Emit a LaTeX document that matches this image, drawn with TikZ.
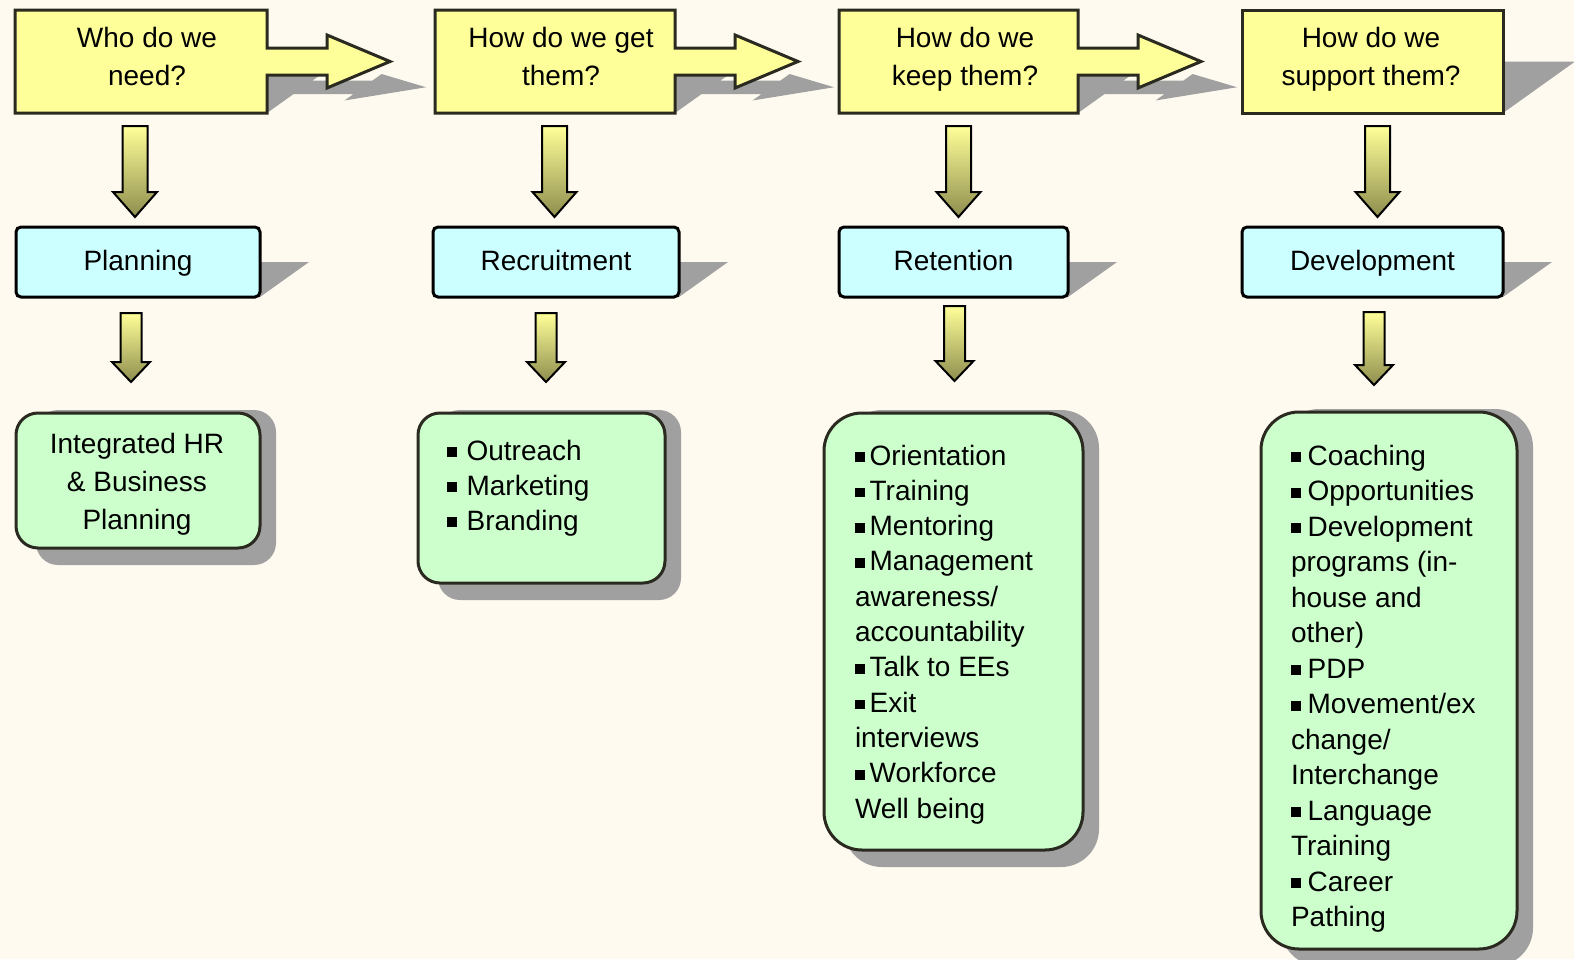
\documentclass[tikz,border=0pt]{standalone}
\usepackage{fontspec}
\setmainfont{Liberation Sans}
\usetikzlibrary{calc}

\definecolor{bg}{HTML}{FFFAF0}
\definecolor{ylw}{HTML}{FFFF99}
\definecolor{cyn}{HTML}{CCFFFF}
\definecolor{grn}{HTML}{CCFFCC}
\definecolor{shd}{HTML}{A0A0A0}
\definecolor{edge}{HTML}{2A2A20}
\definecolor{arrtop}{HTML}{FFFF99}
\definecolor{arrbot}{HTML}{8E8E4E}

\pgfdeclarelayer{back}
\pgfdeclarelayer{shade}
\pgfsetlayers{back,shade,main}

% small square bullet, #1 = gap after it
\newcommand\bul[1]{\rule[1.5pt]{4.8pt}{4.8pt}\hspace{#1}}
% centred and left-aligned text blocks whose baseline is the first line
\newcommand\ctext[1]{\parbox[t]{200pt}{\centering\fontsize{14pt}{19pt}\selectfont #1}}
\newcommand\ltext[2]{\parbox[t]{140pt}{\raggedright\fontsize{14pt}{#1}\selectfont #2}}

\tikzset{
  ybox/.style={draw=edge, line width=1.5pt, fill=ylw, line join=miter},
  yframe/.style={inner sep=0pt, outer sep=0pt, minimum height=51.5pt},
  cbox/.style={draw=black, line width=1.5pt, fill=cyn, rounded corners=2.5pt,
    inner sep=0pt, outer sep=0pt, minimum height=35pt,
    font=\fontsize{14pt}{17pt}\selectfont, text height=10pt, text depth=2pt},
  gbox/.style={draw=edge, line width=1.5pt, fill=grn, inner sep=0pt, outer sep=0pt},
  txt/.style={inner sep=0pt, outer sep=0pt, anchor=base},
  ltxt/.style={inner sep=0pt, outer sep=0pt, anchor=base west},
  darrow/.style={draw=black, line width=1pt, top color=arrtop, bottom color=arrbot, line join=miter},
}

% yellow question box with a block arrow on its right, and its cast shadow
\newcommand\callout[1]{%
  \begin{pgfonlayer}{shade}
    \fill[shd] (#1.south west) -- (#1.south east)
      -- ($(#1.south east)+(26.6,-19)$) -- ($(#1.south east)+(86.6,-19)$)
      -- ($(#1.south east)+(77.5,-12.5)$) -- ($(#1.south east)+(159.05,-25.75)$)
      -- ($(#1.south east)+(114.6,-39)$) -- ($(#1.south east)+(105.5,-32.5)$)
      -- ($(#1.south east)+(45.5,-32.5)$) -- ($(#1.south east)+(72.1,-51.5)$)
      -- ($(#1.south west)+(72.1,-51.5)$) -- cycle;
  \end{pgfonlayer}
  \draw[ybox] (#1.north west) -- (#1.north east)
    -- ($(#1.east)+(0,-13.5)$) -- ($(#1.east)+(60,-13.5)$)
    -- ($(#1.east)+(60,-26.5)$) -- ($(#1.east)+(123,0)$)
    -- ($(#1.east)+(60,26.5)$) -- ($(#1.east)+(60,13.5)$)
    -- ($(#1.east)+(0,13.5)$) -- (#1.south east) -- (#1.south west) -- cycle;}

% yellow question box without arrow
\newcommand\plainbox[1]{%
  \begin{pgfonlayer}{shade}
    \fill[shd] (#1.south west) -- (#1.south east)
      -- ($(#1.south east)+(72.1,-51.5)$) -- ($(#1.south west)+(72.1,-51.5)$) -- cycle;
  \end{pgfonlayer}
  \draw[ybox] (#1.north west) rectangle (#1.south east);}

% cast shadow of a cyan box
\newcommand\cshadow[1]{%
  \begin{pgfonlayer}{shade}
    \fill[shd] (#1.south west) -- (#1.south east)
      -- ($(#1.south east)+(49,-35)$) -- ($(#1.south west)+(49,-35)$) -- cycle;
  \end{pgfonlayer}}

% drop shadow of a green box, #2 = corner radius
\newcommand\gshadow[2]{%
  \begin{pgfonlayer}{shade}
    \fill[shd, rounded corners=#2] ($(#1.north west)+(20,-3)$) rectangle ($(#1.south east)+(16,17)$);
  \end{pgfonlayer}}

% downward block arrow: #1 start (x and top), #2 tip (y), #3 half shaft, #4 half head, #5 head length
\newcommand\dnarrow[5]{%
  \path[darrow] let \p1=#1, \p2=#2 in
    (\x1-#3,\y1) -- (\x1+#3,\y1) -- (\x1+#3,\y2+#5) -- (\x1+#4,\y2+#5)
    -- (\x1,\y2) -- (\x1-#4,\y2+#5) -- (\x1-#3,\y2+#5) -- cycle;}

\begin{document}
\begin{tikzpicture}[x=0.5pt, y=-0.5pt]
\useasboundingbox (0,0) rectangle (1574,959);
\begin{pgfonlayer}{back}
  \fill[bg] (0,0) rectangle (1574,959);
\end{pgfonlayer}

% question boxes
\node[yframe, minimum width=126pt]   (y1) at (141,61.5) {};
\node[yframe, minimum width=120pt]   (y2) at (555,61.5) {};
\node[yframe, minimum width=119.5pt] (y3) at (958.5,61.5) {};
\node[yframe, minimum width=130.5pt] (y4) at (1372.5,61.5) {};
\callout{y1}
\callout{y2}
\callout{y3}
\plainbox{y4}
\node[txt] (ty1) at (147,47)  {\ctext{Who do we\\need?}};
\node[txt] (ty2) at (561,47)  {\ctext{How do we get\\them?}};
\node[txt] (ty3) at (965,47)  {\ctext{How do we\\keep them?}};
\node[txt] (ty4) at (1371,47) {\ctext{How do we\\support them?}};

% stage boxes
\node[cbox, minimum width=122pt]   (c1) at (138,262)    {Planning};
\node[cbox, minimum width=123pt]   (c2) at (556,262)    {Recruitment};
\node[cbox, minimum width=114.5pt] (c3) at (953.5,262)  {Retention};
\node[cbox, minimum width=130.5pt] (c4) at (1372.5,262) {Development};
\cshadow{c1}
\cshadow{c2}
\cshadow{c3}
\cshadow{c4}

% detail boxes
\node[gbox, rounded corners=11pt, minimum width=122pt,   minimum height=67.5pt]  (g1) at (138,480.5) {};
\node[gbox, rounded corners=11pt, minimum width=123.5pt, minimum height=85pt]    (g2) at (541.5,498) {};
\node[gbox, rounded corners=19pt, minimum width=129.5pt, minimum height=218.5pt] (g3) at (953.5,631.5) {};
\node[gbox, rounded corners=19pt, minimum width=128pt,   minimum height=268.5pt] (g4) at (1389,680.5) {};
\gshadow{g1}{11pt}
\gshadow{g2}{11pt}
\gshadow{g3}{19pt}
\gshadow{g4}{19pt}

\node[txt] (tg1) at (137,453) {\ctext{Integrated HR\\\& Business\\Planning}};
\node[ltxt] (tg2) at (447,460) {\ltext{17.5pt}{\bul{5pt}Outreach\\\bul{5pt}Marketing\\\bul{5pt}Branding}};
\node[ltxt] (tg3) at (855,465) {\ltext{17.65pt}{%
  \bul{2.5pt}Orientation\\\bul{2.5pt}Training\\\bul{2.5pt}Mentoring\\\bul{2.5pt}Management\\
  awareness/\\accountability\\\bul{2.5pt}Talk to EEs\\\bul{2.5pt}Exit\\interviews\\
  \bul{2.5pt}Workforce\\Well being}};
\node[ltxt] (tg4) at (1291,465) {\ltext{17.75pt}{%
  \bul{3.5pt}Coaching\\\bul{3.5pt}Opportunities\\\bul{3.5pt}Development\\programs (in-\\
  house and\\other)\\\bul{3.5pt}PDP\\\bul{3.5pt}Movement/ex\\change/\\Interchange\\
  \bul{3.5pt}Language\\Training\\\bul{3.5pt}Career\\Pathing}};

% arrows from questions to stages
\dnarrow{($(y1.south)+(-6,13)$)}{($(c1.north)+(0,-10)$)}{6.25pt}{11pt}{12.5pt}
\dnarrow{($(y2.south)+(-0.5,13)$)}{($(c2.north)+(0,-10)$)}{6.25pt}{11pt}{12.5pt}
\dnarrow{($(y3.south)+(0,13)$)}{($(c3.north)+(0,-10)$)}{6.25pt}{11pt}{12.5pt}
\dnarrow{($(y4.south)+(5,13)$)}{($(c4.north)+(0,-10)$)}{6.25pt}{11pt}{12.5pt}

% arrows from stages to details
\dnarrow{($(c1.south)+(-7,16)$)}{($(g1.north)+(0,-31)$)}{5.25pt}{9.5pt}{10pt}
\dnarrow{($(c2.south)+(-10,16)$)}{($(g2.north)+(0,-31)$)}{5.25pt}{9.5pt}{10pt}
\dnarrow{($(c3.south)+(1,9)$)}{($(g3.north)+(0,-32)$)}{5.25pt}{9.5pt}{10pt}
\dnarrow{($(c4.south)+(1.5,15)$)}{($(g4.north)+(0,-27)$)}{5.25pt}{9.5pt}{10pt}
\end{tikzpicture}
\end{document}
